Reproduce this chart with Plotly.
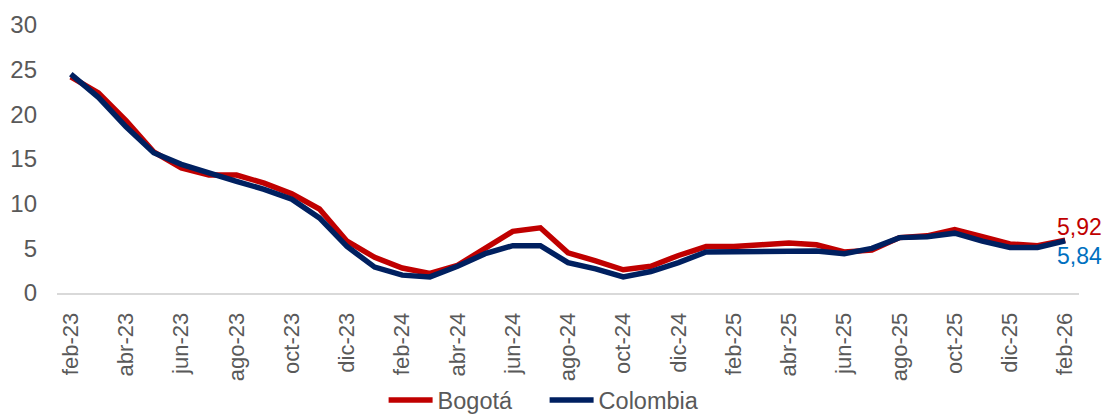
import plotly.graph_objects as go

months = ["feb-23", "mar-23", "abr-23", "may-23", "jun-23", "jul-23", "ago-23", "sep-23",
          "oct-23", "nov-23", "dic-23", "ene-24", "feb-24", "mar-24", "abr-24", "may-24",
          "jun-24", "jul-24", "ago-24", "sep-24", "oct-24", "nov-24", "dic-24", "ene-25",
          "feb-25", "mar-25", "abr-25", "may-25", "jun-25", "jul-25", "ago-25", "sep-25",
          "oct-25", "nov-25", "dic-25", "ene-26", "feb-26"]

bogota = [24.2, 22.4, 19.3, 15.8, 14.0, 13.2, 13.2, 12.3, 11.1, 9.4, 5.8, 4.0, 2.8,
          2.2, 3.1, 5.0, 6.9, 7.3, 4.5, 3.6, 2.6, 3.0, 4.2, 5.2, 5.2, 5.4, 5.6, 5.4,
          4.6, 4.8, 6.2, 6.4, 7.1, 6.3, 5.5, 5.3, 5.92]

colombia = [24.5, 21.9, 18.6, 15.7, 14.4, 13.4, 12.5, 11.6, 10.5, 8.4, 5.2, 2.9, 2.0,
            1.8, 3.0, 4.4, 5.3, 5.3, 3.4, 2.7, 1.8, 2.4, 3.4, 4.6, 4.6, 4.7, 4.7, 4.7,
            4.4, 5.0, 6.2, 6.3, 6.7, 5.8, 5.1, 5.1, 5.84]

tick_labels = months[::2]
y_ticks = [0, 5, 10, 15, 20, 25, 30]

RED = "#C00000"
NAVY = "#002060"
BLUE_LBL = "#0070C0"
GREY_TXT = "#595959"
AXIS_GREY = "#D9D9D9"
FONT = "Liberation Sans, Arial, sans-serif"

x_idx = list(range(len(months)))
boundaries = [i - 0.5 for i in range(0, len(months), 2)]

fig = go.Figure()
fig.add_trace(go.Scatter(x=x_idx, y=bogota, mode="lines", name="Bogotá",
                         line=dict(color=RED, width=5.5)))
fig.add_trace(go.Scatter(x=x_idx, y=colombia, mode="lines", name="Colombia",
                         line=dict(color=NAVY, width=5.5)))

def fmt(v):
    return f"{v:.2f}".replace(".", ",")

fig.add_annotation(xref="paper", x=1.0, xshift=24, y=bogota[-1], text=fmt(bogota[-1]),
                   showarrow=False, xanchor="right", yanchor="middle", yshift=13,
                   borderpad=0, font=dict(color=RED, size=23, family=FONT))
fig.add_annotation(xref="paper", x=1.0, xshift=24, y=colombia[-1], text=fmt(colombia[-1]),
                   showarrow=False, xanchor="right", yanchor="middle", yshift=-15,
                   borderpad=0, font=dict(color=BLUE_LBL, size=23, family=FONT))

fig.update_layout(
    width=1104, height=414,
    margin=dict(l=57, r=25, t=25, b=121, autoexpand=False),
    paper_bgcolor="white", plot_bgcolor="white",
    font=dict(family=FONT, color=GREY_TXT, size=22),
    showlegend=True,
    legend=dict(orientation="h", xref="container", x=0.4933, xanchor="center",
                yref="container", y=0.033, yanchor="middle",
                bgcolor="rgba(0,0,0,0)",
                font=dict(size=23.5, color=GREY_TXT), itemwidth=44,
                entrywidth=102, entrywidthmode="pixels", tracegroupgap=0),
    xaxis=dict(range=[-0.5, len(months) - 0.5], tickmode="array",
               tickvals=x_idx[::2], ticktext=tick_labels, tickangle=-90,
               ticks="", showgrid=False, zeroline=False, showline=True,
               linecolor=AXIS_GREY, linewidth=2, ticklabelstandoff=9,
               automargin=False, tickfont=dict(size=22, color=GREY_TXT)),
    xaxis2=dict(overlaying="x", anchor="y", side="bottom",
                range=[-0.5, len(months) - 0.5], tickmode="array",
                tickvals=boundaries, ticks="outside", ticklen=6, tickwidth=2,
                tickcolor=AXIS_GREY, showticklabels=False, showgrid=False,
                zeroline=False, showline=False, automargin=False),
    yaxis=dict(range=[0, 30], tickmode="array", tickvals=y_ticks,
               showgrid=False, zeroline=False, showline=False, ticks="",
               ticklabelstandoff=19, automargin=False,
               tickfont=dict(size=24, color=GREY_TXT)),
)

fig.write_html("out.html", config={"displayModeBar": False},
               post_script="document.body.style.margin='0';document.body.style.overflow='hidden';")
